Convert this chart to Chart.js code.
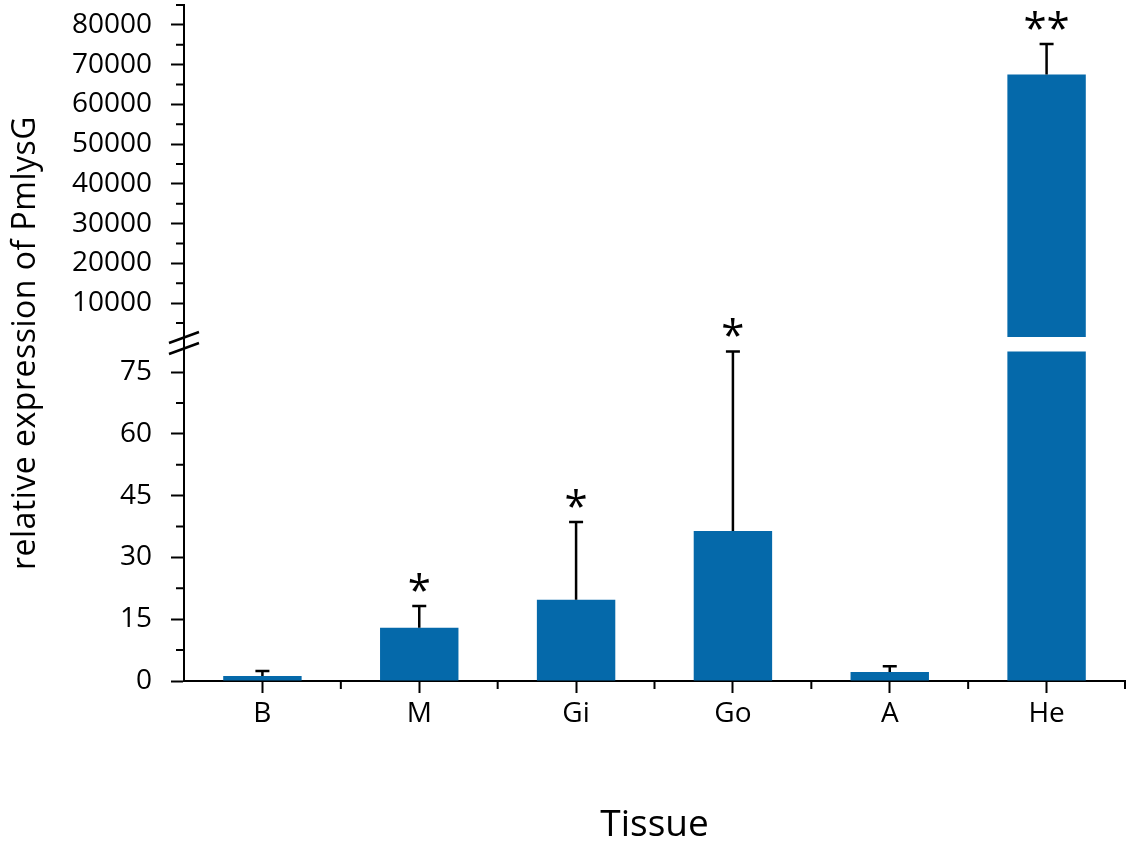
<!DOCTYPE html>
<html>
<head>
<meta charset="utf-8">
<script src="https://cdn.jsdelivr.net/npm/chart.js@4.4.1/dist/chart.umd.min.js"></script>
<style>
  body { margin: 0; background: #fff; }
  #wrap { width: 1134px; height: 842px; }
</style>
</head>
<body>
<div id="wrap"><canvas id="mycanvas" width="1134" height="842"></canvas></div>
<script>
// data
var tissues = ['B', 'M', 'Gi', 'Go', 'A', 'He'];
var expression = [1.2, 12.9, 19.7, 36.4, 2.2, 67500];
var errorUp = [1.2, 5.3, 18.9, 43.6, 1.4, 7700];
var signif = ['', '*', '*', '*', '', '**'];

var lowTicks = [0, 15, 30, 45, 60, 75];
var lowMinor = [7.5, 22.5, 37.5, 52.5, 67.5];
var highTicks = [10000, 20000, 30000, 40000, 50000, 60000, 70000, 80000];
var highMinor = [5000, 15000, 25000, 35000, 45000, 55000, 65000, 75000, 85000];

// broken axis limits
var breakAt = 80;
var lowMax = 83.5;
var highMin = 1500;
var highMax = 85000;

var barColor = '#0569aa';
var fontFam = '"Open Sans", "DejaVu Sans", sans-serif';

var lowData = [];
var highData = [];
for (var i in expression) {
    lowData.push(Math.min(expression[i], breakAt));
    highData.push(expression[i] > lowMax ? expression[i] : null);
}

function inHigh(v) { return v > lowMax; }

var extras = {
    id: 'extras',
    afterDatasetsDraw: function(chart) {
        var ctx = chart.ctx;
        var area = chart.chartArea;
        var x = chart.scales.x;
        var yLow = chart.scales.yLow;
        var yHigh = chart.scales.yHigh;
        var lowMeta = chart.getDatasetMeta(0);
        var highMeta = chart.getDatasetMeta(1);

        ctx.save();
        ctx.strokeStyle = '#000';
        ctx.fillStyle = '#000';
        ctx.lineWidth = 2.5;

        // error bars (upper half only) and significance stars
        for (var i = 0; i < tissues.length; i++) {
            var top = expression[i] + errorUp[i];
            var sc = inHigh(top) ? yHigh : yLow;
            var bar = inHigh(expression[i]) ? highMeta.data[i] : lowMeta.data[i];
            var px = bar.x;
            var y0 = bar.y;
            var y1 = sc.getPixelForValue(top);
            ctx.beginPath();
            ctx.moveTo(px, y0);
            ctx.lineTo(px, y1);
            ctx.moveTo(px - 7, y1);
            ctx.lineTo(px + 7, y1);
            ctx.stroke();
            if (signif[i]) {
                ctx.font = '42px ' + fontFam;
                ctx.textAlign = 'center';
                ctx.textBaseline = 'alphabetic';
                ctx.fillText(signif[i], px, y1 - 1);
            }
        }

        // minor ticks
        ctx.lineWidth = 2;
        ctx.beginPath();
        lowMinor.forEach(function(v) {
            var py = yLow.getPixelForValue(v);
            ctx.moveTo(area.left - 8, py);
            ctx.lineTo(area.left, py);
        });
        highMinor.forEach(function(v) {
            var py = yHigh.getPixelForValue(v);
            ctx.moveTo(area.left - 8, py);
            ctx.lineTo(area.left, py);
        });
        for (var k = 0; k < tissues.length; k++) {
            var bx = k < tissues.length - 1 ?
                (x.getPixelForValue(k) + x.getPixelForValue(k + 1)) / 2 : area.right;
            ctx.moveTo(bx, area.bottom);
            ctx.lineTo(bx, area.bottom + 8);
        }
        ctx.stroke();

        // axis break marks
        var by = yLow.top;
        ctx.lineWidth = 2.5;
        ctx.beginPath();
        ctx.moveTo(area.left - 15, by + 6);
        ctx.lineTo(area.left + 15, by - 5);
        ctx.moveTo(area.left - 15, by + 17);
        ctx.lineTo(area.left + 15, by + 6);
        ctx.stroke();

        // y axis title spanning both halves
        ctx.translate(26, (area.top + area.bottom) / 2);
        ctx.rotate(-Math.PI / 2);
        ctx.font = '32px ' + fontFam;
        ctx.letterSpacing = '0.5px';
        ctx.textAlign = 'center';
        ctx.textBaseline = 'middle';
        ctx.fillText('relative expression of PmlysG', 0, 0);
        ctx.restore();
    }
};

function yScale(min, max, ticks, weight) {
    return {
        type: 'linear',
        position: 'left',
        stack: 'broken',
        stackWeight: weight,
        min: min,
        max: max,
        afterBuildTicks: function(scale) {
            scale.ticks = ticks.map(function(v) { return {value: v}; });
        },
        afterFit: function(scale) {
            scale.width = 184;
            scale.paddingTop = 0;
            scale.paddingBottom = 0;
        },
        ticks: {
            color: '#000',
            padding: 19,
            autoSkip: false,
            font: {size: 28, family: fontFam},
            callback: function(v) { return String(v); }
        },
        grid: {
            drawOnChartArea: false,
            drawTicks: true,
            tickLength: 13,
            tickWidth: 2,
            tickColor: '#000'
        },
        border: {display: true, color: '#000', width: 2}
    };
}

var ctx = document.getElementById('mycanvas');

var barGraph = new Chart(ctx, {
    type: 'bar',
    data: {
        labels: tissues,
        datasets: [
            {
                label: 'low',
                data: lowData,
                yAxisID: 'yLow',
                backgroundColor: barColor,
                grouped: false,
                categoryPercentage: 1,
                barPercentage: 0.5
            },
            {
                label: 'high',
                data: highData,
                yAxisID: 'yHigh',
                base: highMin,
                backgroundColor: barColor,
                grouped: false,
                categoryPercentage: 1,
                barPercentage: 0.5
            }
        ]
    },
    options: {
        responsive: false,
        animation: false,
        layout: {padding: {top: 5, right: 9, left: 0, bottom: 0}},
        plugins: {legend: {display: false}, tooltip: {enabled: false}},
        scales: {
            x: {
                afterFit: function(scale) {
                    scale.height = 161;
                    scale.paddingLeft = 0;
                    scale.paddingRight = 0;
                },
                ticks: {
                    color: '#000',
                    padding: 4,
                    font: {size: 28, family: fontFam}
                },
                grid: {
                    offset: false,
                    drawOnChartArea: false,
                    tickLength: 12,
                    tickWidth: 2,
                    tickColor: '#000'
                },
                border: {display: true, color: '#000', width: 2},
                title: {
                    display: true,
                    text: 'Tissue',
                    color: '#000',
                    padding: 0,
                    font: {size: 37, family: fontFam, lineHeight: 0.9}
                }
            },
            yLow: yScale(0, lowMax, lowTicks, 344),
            yHigh: yScale(highMin, highMax, highTicks, 332)
        }
    },
    plugins: [extras]
});
</script>
</body>
</html>
